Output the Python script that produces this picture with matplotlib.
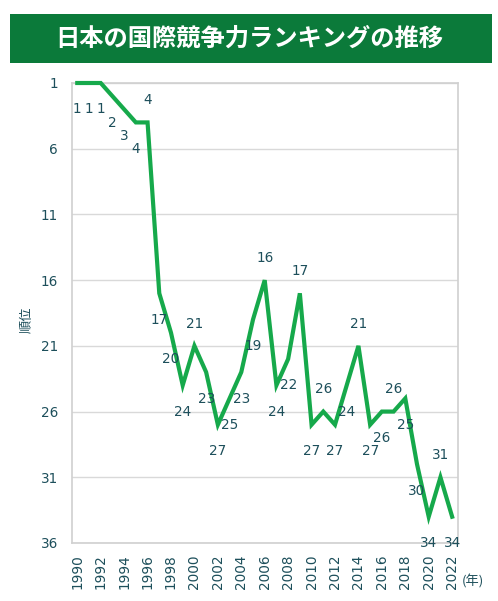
import matplotlib
matplotlib.use("Agg")
import matplotlib.pyplot as plt
from matplotlib.patches import Rectangle

plt.rcParams['font.family'] = ['DejaVu Sans', 'Noto Sans CJK JP']

years = list(range(1990, 2023))
ranks = [1, 1, 1, 2, 3, 4, 4, 17, 20, 24, 21, 23, 27, 25, 23, 19, 16, 24, 22, 17,
         27, 26, 27, 24, 21, 27, 26, 26, 25, 30, 34, 31, 34]
label_above_years = [1996, 2000, 2006, 2009, 2011, 2014, 2017, 2021]
y_ticks = [1, 6, 11, 16, 21, 26, 31, 36]
x_ticks = list(range(1990, 2023, 2))
title = "日本の国際競争力ランキングの推移"
ylabel = "順位"
xunit = "(年)"

W, H = 498, 601
fig = plt.figure(figsize=(W / 100, H / 100), dpi=100)

# title banner
banner = Rectangle((10 / W, 1 - 63 / H), 482 / W, 49 / H, transform=fig.transFigure,
                   facecolor="#0b7a3a", edgecolor="none")
fig.patches.append(banner)
fig.text(0.5, 1 - 38.5 / H, title, ha="center", va="center", color="white",
         fontsize=17.5, fontweight="bold", family=["Noto Sans CJK JP"])

left, right, top, bottom = 72, 458, 83, 543
ax = fig.add_axes([left / W, 1 - bottom / H, (right - left) / W, (bottom - top) / H])

text_color = "#1d4f5b"
line_color = "#16a94b"

ax.plot(years, ranks, color=line_color, lw=3.0, solid_joinstyle="miter", zorder=3, clip_on=False)

for yr, rk in zip(years, ranks):
    dy = 16 if yr in label_above_years else -19
    ax.annotate(str(rk), (yr, rk), xytext=(0, dy), textcoords="offset points",
                ha="center", va="center", fontsize=9.8, color=text_color, zorder=4)

ax.set_xlim(1989.55, 2022.5)
ax.set_ylim(36, 1)
ax.set_yticks(y_ticks)
ax.set_xticks(x_ticks)
ax.set_xticklabels([str(x) for x in x_ticks], rotation=90)
ax.tick_params(axis="both", length=0, colors=text_color, labelsize=9.8)
ax.tick_params(axis="y", pad=10)
ax.tick_params(axis="x", pad=8)
ax.grid(axis="y", color="#d9d9d9", lw=1.0)
ax.set_axisbelow(True)
for s in ax.spines.values():
    s.set_color("#d0d0d0")
    s.set_linewidth(1.2)

fig.text(27 / W, 1 - 320 / H, ylabel, rotation=90, ha="center", va="center",
         color=text_color, fontsize=9.5, family=["Noto Sans CJK JP"])
fig.text(473 / W, 1 - 581 / H, xunit, ha="center", va="center",
         color=text_color, fontsize=9.5, family=["Noto Sans CJK JP"])

fig.savefig("out.png", dpi=100, facecolor="white")
